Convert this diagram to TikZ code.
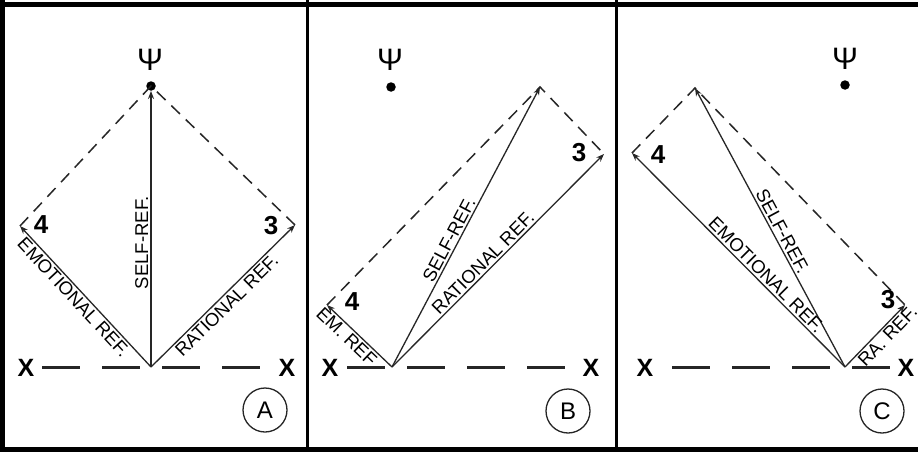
\documentclass[tikz,border=0pt]{standalone}
\usepackage{fontspec}
\setmainfont{Liberation Sans}
\usetikzlibrary{arrows.meta}
\definecolor{ink}{HTML}{262626}
\tikzset{
  refline/.style={draw=ink, line width=1.3pt, -{Stealth[length=8pt,width=6pt]}},
  dashline/.style={draw=ink, line width=1.5pt, dash pattern=on 12pt off 8pt},
  axisline/.style={draw=ink, line width=3pt, dash pattern=on 38pt off 22pt},
  lbl/.style={font=\fontsize{18.5}{18.5}\selectfont, inner sep=2pt},
  numlbl/.style={font=\bfseries\fontsize{26}{26}\selectfont, inner sep=0pt},
  xlbl/.style={font=\bfseries\fontsize{25}{25}\selectfont, inner sep=0pt},
  psilbl/.style={font=\fontsize{31}{31}\selectfont, inner sep=0pt},
  dotnode/.style={circle, fill=black, inner sep=0pt, minimum size=9.5pt},
  panellbl/.style={circle, draw=ink, line width=1.3pt, minimum size=44pt, inner sep=0pt, font=\fontsize{24}{24}\selectfont},
  frame/.style={draw=black, line width=5pt},
  divider/.style={draw=black, line width=3pt}
}
\begin{document}
\begin{tikzpicture}[x=1pt,y=-1pt]
\useasboundingbox (0,0) rectangle (918,452);
\fill[white] (0,0) rectangle (918,452);
\begin{scope}
\clip (0,0) rectangle (918,452);
% ---------- Panel A ----------
\coordinate (oA) at (151,367);
\coordinate (tA) at (151,86);
\coordinate (lA) at (20,226);
\coordinate (rA) at (295,225);
\node[psilbl] (psiA) at (150,60) {Ψ};
\node[dotnode] (dotA) at (151,86) {};
\draw[dashline] (lA) -- (tA) -- (rA);
\draw[refline] (oA) -- node[lbl, sloped, above, pos=0.45] (selfA) {SELF-REF.} (dotA);
\draw[refline] (oA) -- node[lbl, sloped, below, pos=0.54] (emA) {EMOTIONAL REF.} (lA);
\draw[refline] (oA) -- node[lbl, sloped, below, pos=0.48] (raA) {RATIONAL REF.} (rA);
\coordinate (axA1) at (42,367);
\coordinate (axA2) at (262,367);
\draw[axisline] (axA1) -- (axA2);
\node[xlbl] (xA1) at (26,368) {X};
\node[xlbl] (xA2) at (287,368) {X};
\node[numlbl] (fourA) at (41,225) {4};
\node[numlbl] (threeA) at (271,226) {3};
\node[panellbl] (pA) at (265,410) {A};
% ---------- Panel B ----------
\coordinate (oB) at (392,367);
\coordinate (tB) at (540,87);
\coordinate (lB) at (327,305);
\coordinate (rB) at (604,154);
\node[psilbl] (psiB) at (390,60) {Ψ};
\node[dotnode] (dotB) at (391,87) {};
\draw[dashline] (lB) -- (tB) -- (rB);
\draw[refline] (oB) -- node[lbl, sloped, above, pos=0.44] (selfB) {SELF-REF.} (tB);
\draw[refline] (oB) -- node[lbl, sloped, above, pos=0.46] (raB) {RATIONAL REF.} (rB);
\draw[refline] (oB) -- node[lbl, sloped, below, pos=0.6] (emB) {EM. REF} (lB);
\coordinate (axB1) at (347,367);
\coordinate (axB2) at (567,367);
\draw[axisline] (axB1) -- (axB2);
\node[xlbl] (xB1) at (330,368) {X};
\node[xlbl] (xB2) at (591,368) {X};
\node[numlbl] (fourB) at (352,302) {4};
\node[numlbl] (threeB) at (579,153) {3};
\node[panellbl] (pB) at (568,411) {B};
% ---------- Panel C ----------
\coordinate (oC) at (845,367);
\coordinate (tC) at (695,88);
\coordinate (lC) at (632,153);
\coordinate (rC) at (905,305);
\node[psilbl] (psiC) at (845,59) {Ψ};
\node[dotnode] (dotC) at (845,85) {};
\draw[dashline] (lC) -- (tC) -- (rC);
\draw[refline] (oC) -- node[lbl, sloped, above, pos=0.47] (selfC) {SELF-REF.} (tC);
\draw[refline] (oC) -- node[lbl, sloped, above, pos=0.40] (emC) {EMOTIONAL REF.} (lC);
\draw[refline] (oC) -- node[lbl, sloped, below, pos=0.6] (raC) {RA. REF.} (rC);
\coordinate (axC1) at (672,367);
\coordinate (axC2) at (892,367);
\draw[axisline] (axC1) -- (axC2);
\node[xlbl] (xC1) at (645,368) {X};
\node[xlbl] (xC2) at (906,368) {X};
\node[numlbl] (fourC) at (658,155) {4};
\node[numlbl] (threeC) at (888,300) {3};
\node[panellbl] (pC) at (882,411) {C};
% ---------- frames ----------
\draw[frame] (0,4.5) -- (918,4.5);
\draw[frame] (0,449.5) -- (918,449.5);
\draw[frame] (2.5,0) -- (2.5,452);
\draw[divider] (307.5,0) -- (307.5,452);
\draw[divider] (616.5,0) -- (616.5,452);
\end{scope}
\end{tikzpicture}
\end{document}
